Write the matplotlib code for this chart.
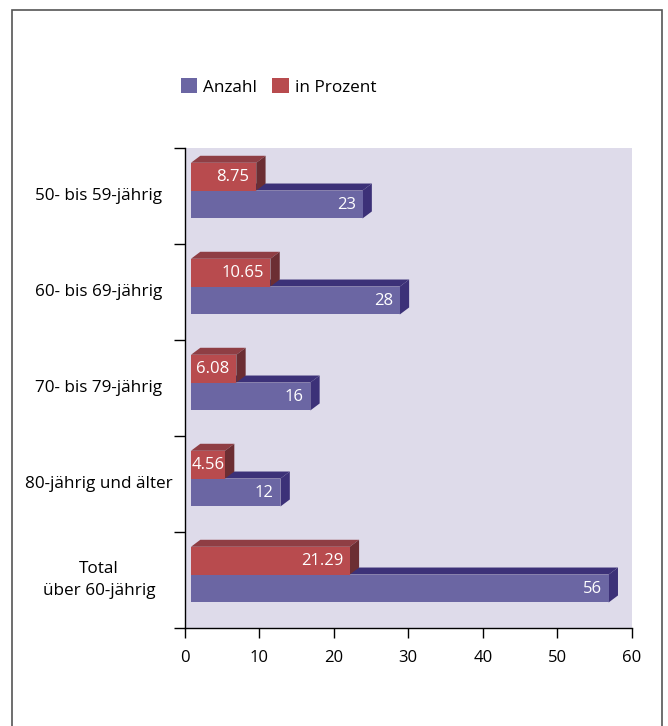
import matplotlib
matplotlib.use("Agg")
import matplotlib.pyplot as plt
from matplotlib.patches import Polygon, Rectangle, Patch
from matplotlib.transforms import blended_transform_factory

plt.rcParams['font.family'] = ['Open Sans', 'DejaVu Sans']

categories = ["50- bis 59-jährig", "60- bis 69-jährig", "70- bis 79-jährig",
              "80-jährig und älter", "Total\nüber 60-jährig"]
anzahl = [23, 28, 16, 12, 56]
prozent = [8.75, 10.65, 6.08, 4.56, 21.29]
prozent_labels = ["8.75", "10.65", "6.08", "4.56", "21.29"]
anzahl_labels = ["23", "28", "16", "12", "56"]
xticks = [0, 10, 20, 30, 40, 50, 60]

BG = "#dedbea"
BLUE_FRONT = "#6b66a3"
BLUE_DARK = "#3c3178"
RED_FRONT = "#b84b4e"
RED_TOP = "#8f3e44"
RED_SIDE = "#6c2e33"

X0 = 0.87        # front-face start (data units)
DX = 1.25        # depth offset x (data units)
DY = 0.073       # depth offset y (data units)

fig = plt.figure(figsize=(6.68, 7.26), dpi=100)
ax = fig.add_axes([184.5/668, 1-628/726, (632-184.5)/668, (628-148)/726])
ax.set_facecolor(BG)
ax.set_xlim(0, 60)
ax.set_ylim(4.5, -0.5)

def box(ax, y_top, y_bot, value, front, top, side):
    x1 = X0 + value
    ax.add_patch(Polygon([(X0, y_top), (X0 + DX, y_top - DY), (x1 + DX, y_top - DY), (x1, y_top)],
                         closed=True, facecolor=top, edgecolor='none', zorder=2))
    ax.add_patch(Polygon([(x1, y_top), (x1 + DX, y_top - DY), (x1 + DX, y_bot - DY), (x1, y_bot)],
                         closed=True, facecolor=side, edgecolor='none', zorder=2))
    ax.add_patch(Rectangle((X0, y_top), value, y_bot - y_top, facecolor=front,
                           edgecolor='none', zorder=2))

labels = []
for i in range(len(categories)):
    box(ax, i - 0.057, i + 0.234, anzahl[i], BLUE_FRONT, BLUE_DARK, BLUE_DARK)
    t = ax.text(X0 + anzahl[i] - 0.9, i + 0.095, anzahl_labels[i], color='white',
                ha='right', va='center', fontsize=12, zorder=3)
    labels.append(t)
    box(ax, i - 0.346, i - 0.057, prozent[i], RED_FRONT, RED_TOP, RED_SIDE)
    t = ax.text(X0 + prozent[i] - 0.9, i - 0.195, prozent_labels[i], color='white',
                ha='right', va='center', fontsize=12, zorder=3)
    labels.append(t)

for s in ['top', 'right']:
    ax.spines[s].set_visible(False)
for s in ['left', 'bottom']:
    ax.spines[s].set_color('black')
    ax.spines[s].set_linewidth(1.0)

ax.set_xticks(xticks)
ax.set_xticklabels([str(t) for t in xticks], fontsize=12)
ax.tick_params(axis='x', direction='out', length=7, width=1, pad=9)
ax.set_yticks([i - 0.5 for i in range(len(categories) + 1)])
ax.set_yticklabels([])
ax.tick_params(axis='y', direction='out', length=8, width=1)

trans = blended_transform_factory(fig.transFigure, ax.transData)
for i, c in enumerate(categories):
    fig.text(99/668, i, c, transform=trans, ha='center', va='center',
             fontsize=12.3, linespacing=1.5)

handles = [Patch(facecolor=BLUE_FRONT, label='Anzahl'),
           Patch(facecolor=RED_FRONT, label='in Prozent')]
fig.legend(handles=handles, loc='center left', bbox_to_anchor=(181/668, 1-87/726),
           ncol=2, frameon=False, fontsize=12.3, handlelength=0.95, handleheight=0.95,
           handletextpad=0.35, columnspacing=0.9, borderaxespad=0, borderpad=0)

fig.add_artist(Rectangle((12/668, -0.05), 650/668, 1.05 - 10/726, transform=fig.transFigure,
                         fill=False, edgecolor='#555555', linewidth=1.2))

# keep value labels inside the bar front face
fig.canvas.draw()
r = fig.canvas.get_renderer()
bar_left_px = ax.transData.transform((X0, 0))[0] + 1
for t in labels:
    bb = t.get_window_extent(r)
    if bb.x0 < bar_left_px:
        shift = bar_left_px - bb.x0
        x, y = t.get_position()
        xpx = ax.transData.transform((x, y))[0] + shift
        t.set_x(ax.transData.inverted().transform((xpx, 0))[0])

fig.savefig('out.png', dpi=100)
